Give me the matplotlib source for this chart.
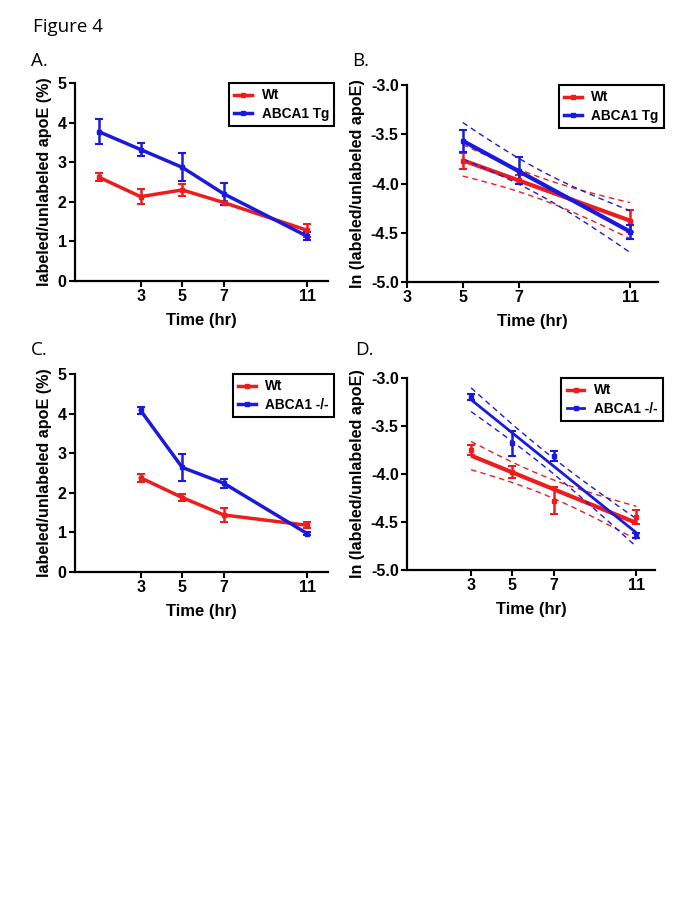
import numpy as np
import matplotlib.pyplot as plt
from matplotlib.lines import Line2D

plt.rcParams['font.family'] = ['Liberation Sans', 'DejaVu Sans']

# time points (hr)
time_a = [1, 3, 5, 7, 11]
time_b = [5, 7, 11]
time_cd = [3, 5, 7, 11]

# A: labeled/unlabeled apoE (%), Wt vs ABCA1 Tg
a_wt = [2.62, 2.13, 2.30, 1.98, 1.28]
a_wt_err = [0.10, 0.19, 0.15, 0.05, 0.17]
a_tg = [3.77, 3.32, 2.87, 2.20, 1.13]
a_tg_err = [0.32, 0.17, 0.35, 0.27, 0.10]

# B: ln(labeled/unlabeled apoE)
b_wt = [-3.77, -3.96, -4.38]
b_wt_err = [0.08, 0.05, 0.11]
b_tg = [-3.57, -3.87, -4.49]
b_tg_err = [0.11, 0.14, 0.07]
b_ci = [0.19, 0.22]   # band scale (Wt, Tg)

# C: labeled/unlabeled apoE (%), Wt vs ABCA1 -/-
c_wt = [2.38, 1.88, 1.44, 1.18]
c_wt_err = [0.10, 0.08, 0.17, 0.08]
c_ko = [4.08, 2.64, 2.24, 0.97]
c_ko_err = [0.08, 0.35, 0.12, 0.03]

# D: ln(labeled/unlabeled apoE)
d_wt = [-3.75, -3.98, -4.28, -4.45]
d_wt_err = [0.05, 0.06, 0.14, 0.07]
d_ko = [-3.20, -3.68, -3.81, -4.64]
d_ko_err = [0.03, 0.13, 0.05, 0.03]
d_ci = [0.19, 0.16]

RED = '#ee1c1c'
BLUE = '#1a1adf'

fig = plt.figure(figsize=(6.85, 9.13), dpi=100)
W, H = 685, 913

def add_axes(l, t, r, b):
    return fig.add_axes([l / W, 1 - b / H, (r - l) / W, (b - t) / H])

def style(ax, ylabel):
    for s in ['top', 'right']:
        ax.spines[s].set_visible(False)
    for s in ['left', 'bottom']:
        ax.spines[s].set_linewidth(1.6)
    ax.tick_params(direction='out', length=4, width=1.5, labelsize=11.5, pad=2)
    for lab in ax.get_xticklabels() + ax.get_yticklabels():
        lab.set_fontweight('bold')
    ax.set_xlabel('Time (hr)', fontsize=12, fontweight='bold', labelpad=6)
    ax.set_ylabel(ylabel, fontsize=11.6, fontweight='bold', labelpad=4)

def legend(ax, labels, anchor, lws=(2.5, 2.5)):
    handles = [Line2D([], [], color=RED, lw=lws[0], marker='s', ms=2.5),
               Line2D([], [], color=BLUE, lw=lws[1], marker='s', ms=2.5)]
    leg = ax.legend(handles, labels, loc='upper right', bbox_to_anchor=anchor,
                    borderaxespad=0, fancybox=False, framealpha=1, handlelength=1.3,
                    prop={'weight': 'bold', 'size': 9.8}, borderpad=0.4,
                    labelspacing=0.3, handletextpad=0.7)
    leg.get_frame().set_edgecolor('black')
    leg.get_frame().set_linewidth(1.5)

def means(ax, x, y, err, color):
    ax.errorbar(x, y, yerr=err, color=color, lw=2.5, marker='s', ms=2.5,
                capsize=3, elinewidth=1.8, capthick=1.5)

def fit(ax, x, y, err, color, ci, lw=3):
    x = np.array(x, float)
    y = np.array(y, float)
    ax.errorbar(x, y, yerr=err, color=color, ls='none', marker='s', ms=2.5,
                capsize=3, elinewidth=1.8, capthick=1.5)
    k, b0 = np.polyfit(x, y, 1)
    xs = np.linspace(x.min(), x.max(), 50)
    xm = x.mean()
    sxx = ((x - xm) ** 2).sum()
    hw = ci * np.sqrt(1 / len(x) + (xs - xm) ** 2 / sxx)
    ax.plot(xs, k * xs + b0, color=color, lw=lw, solid_capstyle='butt')
    ax.plot(xs, k * xs + b0 + hw, color=color, lw=1, ls=(0, (4, 3)))
    ax.plot(xs, k * xs + b0 - hw, color=color, lw=1, ls=(0, (4, 3)))

# A
ax = add_axes(75, 83, 328, 281)
means(ax, time_a, a_wt, a_wt_err, RED)
means(ax, time_a, a_tg, a_tg_err, BLUE)
ax.set_xlim(-0.15, 12)
ax.set_ylim(0, 5)
ax.set_xticks([3, 5, 7, 11])
ax.set_yticks([0, 1, 2, 3, 4, 5])
style(ax, 'labeled/unlabeled apoE (%)')
legend(ax, ['Wt', 'ABCA1 Tg'], (1.025, 1.0))

# B
ax = add_axes(407, 85, 658, 282)
fit(ax, time_b, b_wt, b_wt_err, RED, b_ci[0])
fit(ax, time_b, b_tg, b_tg_err, BLUE, b_ci[1])
ax.set_xlim(3, 12)
ax.set_ylim(-5, -3)
ax.set_xticks([3, 5, 7, 11])
ax.set_yticks([-5, -4.5, -4, -3.5, -3])
ax.set_yticklabels(['-5.0', '-4.5', '-4.0', '-3.5', '-3.0'])
style(ax, 'ln (labeled/unlabeled apoE)')
legend(ax, ['Wt', 'ABCA1 Tg'], (1.024, 1.0))

# C
ax = add_axes(75, 374, 328, 572)
means(ax, time_cd, c_wt, c_wt_err, RED)
means(ax, time_cd, c_ko, c_ko_err, BLUE)
ax.set_xlim(-0.15, 12)
ax.set_ylim(0, 5)
ax.set_xticks([3, 5, 7, 11])
ax.set_yticks([0, 1, 2, 3, 4, 5])
style(ax, 'labeled/unlabeled apoE (%)')
legend(ax, ['Wt', 'ABCA1 -/-'], (1.025, 1.0))

# D
ax = add_axes(407, 378, 655, 570)
fit(ax, time_cd, d_wt, d_wt_err, RED, d_ci[0], lw=3)
fit(ax, time_cd, d_ko, d_ko_err, BLUE, d_ci[1], lw=2)
ax.set_xlim(-0.1, 11.9)
ax.set_ylim(-5, -3)
ax.set_xticks([3, 5, 7, 11])
ax.set_yticks([-5, -4.5, -4, -3.5, -3])
ax.set_yticklabels(['-5.0', '-4.5', '-4.0', '-3.5', '-3.0'])
style(ax, 'ln (labeled/unlabeled apoE)')
legend(ax, ['Wt', 'ABCA1 -/-'], (1.032, 1.0), lws=(2.5, 2))

fig.text(33 / W, 1 - 27 / H, 'Figure 4', fontsize=13.5, family='Open Sans', va='center')
fig.text(31 / W, 1 - 61 / H, 'A.', fontsize=13.5, family='Open Sans', va='center')
fig.text(352 / W, 1 - 61 / H, 'B.', fontsize=13.5, family='Open Sans', va='center')
fig.text(31 / W, 1 - 350 / H, 'C.', fontsize=13.5, family='Open Sans', va='center')
fig.text(355 / W, 1 - 350 / H, 'D.', fontsize=13.5, family='Open Sans', va='center')

fig.savefig('out.png', dpi=100)
